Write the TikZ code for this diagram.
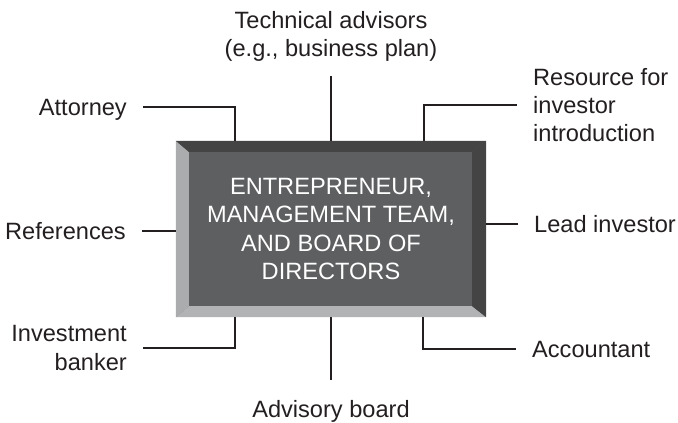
\documentclass[tikz,border=0pt]{standalone}
\usepackage{fontspec}
\setmainfont{Liberation Sans}
\usetikzlibrary{calc,positioning}
\definecolor{faceg}{HTML}{5E5F61}
\definecolor{darkg}{HTML}{444444}
\definecolor{lightg}{HTML}{ABACAE}
\definecolor{lowg}{HTML}{B2B3B5}
\definecolor{lineg}{HTML}{231F20}
\tikzset{
	tag/.style={inner xsep=16pt, inner ysep=0pt, text height=17pt, text depth=0pt, text=lineg},
	tags/.style={inner xsep=16pt, inner ysep=0pt, text=lineg},
	link/.style={draw=lineg, line width=1.8pt}
}

\begin{document}
\begin{tikzpicture}[x=1pt, y=1pt, font=\fontsize{23.6}{28.4}\selectfont]
\useasboundingbox (0,0) rectangle (678,423);
\node[fill=faceg, minimum width=310pt, minimum height=176pt, inner sep=0pt,
	text=white, align=center] (core) at (331,194)
	{ENTREPRENEUR,\\MANAGEMENT TEAM,\\AND BOARD OF\\DIRECTORS};
% bevel of the box
\coordinate (ci-nw) at ($(core.north west)+(13,-11)$);
\coordinate (ci-ne) at ($(core.north east)+(-14,-11)$);
\coordinate (ci-se) at ($(core.south east)+(-14,11)$);
\coordinate (ci-sw) at ($(core.south west)+(13,11)$);
\fill[lightg] (core.south west) -- (core.north west) -- (ci-nw) -- (ci-sw) -- cycle;
\fill[lowg] (core.south east) -- (core.south west) -- (ci-sw) -- (ci-se) -- cycle;
\fill[darkg] (core.north east) -- (core.south east) -- (ci-se) -- (ci-ne) -- cycle;
\fill[darkg] (core.north west) -- (core.north east) -- (ci-ne) -- (ci-nw) -- cycle;
\coordinate (core-n1) at ($(core.north west)+(59,0)$);
\coordinate (core-n3) at ($(core.north east)+(-62,0)$);
\coordinate (core-s1) at ($(core.south west)+(59,0)$);
\coordinate (core-s3) at ($(core.south east)+(-63,0)$);

\node[tag, anchor=east] (att) at (143,316) {Attorney};
\node[tag, anchor=east] (refs) at (142,192) {References};
\node[tags, anchor=east, align=right] (bank) at (143,75) {Investment\\banker};
\node[tags, anchor=south, align=center, inner xsep=0pt] (tech) at (331,361)
	{Technical advisors\\(e.g., business plan)};
\node[tags, anchor=west, align=left] (intro) at (517,318) {Resource for\\investor\\introduction};
\node[tag, anchor=west] (lead) at (518,199) {Lead investor};
\node[tag, anchor=west] (acct) at (516,74) {Accountant};
\node[tag, anchor=north, inner xsep=0pt] (adv) at (331,23) {Advisory board};

\draw[link] (att.east) -| (core-n1);
\draw[link, shorten <=14pt] (tech.south) -- (core.north);
\draw[link] (intro.west) -| (core-n3);
\draw[link] (refs.east) -- (refs.east -| core.west);
\draw[link] (lead.west) -- (lead.west -| core.east);
\draw[link] (bank.east) -| (core-s1);
\draw[link, shorten >=20pt] (core.south) -- (adv.north);
\draw[link] (acct.west) -| (core-s3);
\end{tikzpicture}
\end{document}
